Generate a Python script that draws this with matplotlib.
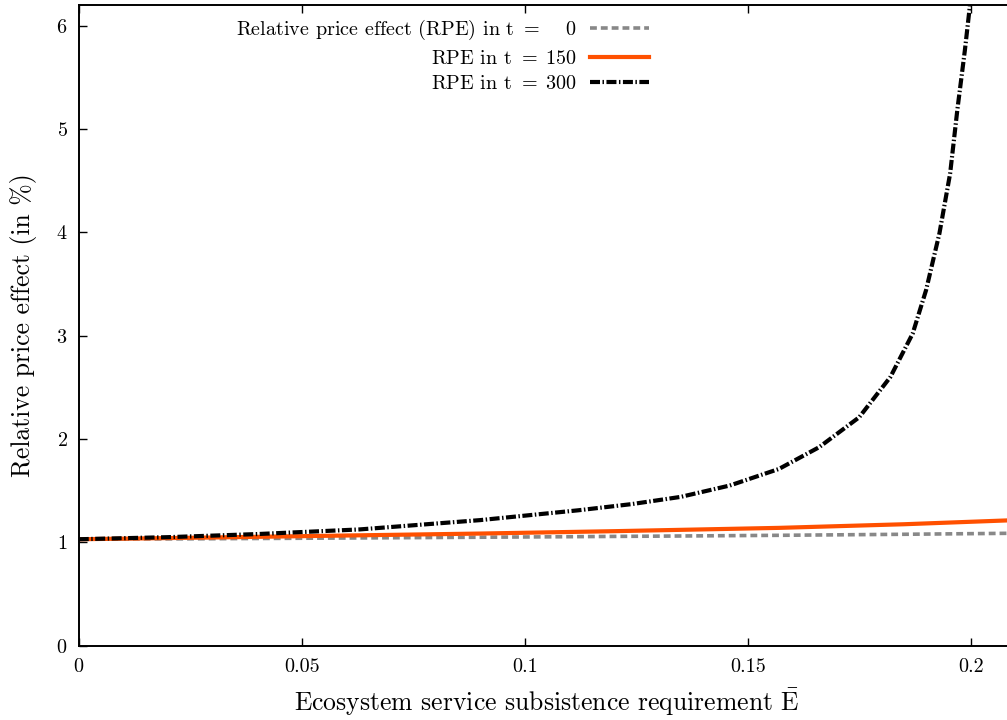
import matplotlib
matplotlib.use("Agg")
import matplotlib.pyplot as plt

plt.rcParams["font.family"] = ["cmr10", "DejaVu Serif"]
plt.rcParams["mathtext.fontset"] = "cm"
plt.rcParams["axes.formatter.use_mathtext"] = True

# subsistence requirement E-bar (x) and relative price effect in % (y)
e_t0 = [0.0, 0.03, 0.065, 0.1, 0.13, 0.157, 0.185, 0.21]
rpe_t0 = [1.03, 1.035, 1.043, 1.052, 1.06, 1.068, 1.078, 1.088]

e_t150 = [0.0, 0.03, 0.063, 0.09, 0.12, 0.157, 0.185, 0.21]
rpe_t150 = [1.03, 1.047, 1.068, 1.085, 1.108, 1.14, 1.175, 1.215]

e_t300 = [0.0, 0.02, 0.04, 0.063, 0.0675, 0.09, 0.112, 0.124, 0.135, 0.146,
          0.157, 0.166, 0.175, 0.182, 0.187, 0.190, 0.193, 0.1954, 0.197,
          0.1987, 0.1998, 0.2005]
rpe_t300 = [1.03, 1.05, 1.08, 1.125, 1.14, 1.215, 1.31, 1.37, 1.44, 1.55,
            1.71, 1.92, 2.21, 2.60, 3.02, 3.44, 3.99, 4.57, 5.18,
            5.76, 6.18, 6.6]

x_ticks = [0, 0.05, 0.1, 0.15, 0.2]
x_tick_labels = ["0", "0.05", "0.1", "0.15", "0.2"]
y_ticks = [0, 1, 2, 3, 4, 5, 6]

# \quad = width of two digits, keeps the "=" signs lined up
labels = [r"Relative price effect (RPE) in t $=\;\quad0$",
          r"RPE in t $=\;150$",
          r"RPE in t $=\;300$"]

fig = plt.figure(figsize=(10.07, 7.2), dpi=100)
ax = fig.add_axes([0.0782, 0.1032, 0.930, 0.890])

ax.plot(e_t0, rpe_t0, color="#888888", lw=2.6, dashes=(1.9, 1.1),
        dash_capstyle="butt", label=labels[0])
ax.plot(e_t150, rpe_t150, color="#ff5000", lw=3.0, label=labels[1])
ax.plot(e_t300, rpe_t300, color="black", lw=3.0, dashes=(2.4, 0.6, 0.35, 0.6),
        dash_capstyle="butt", label=labels[2])

ax.set_xlim(0, 0.21)
ax.set_ylim(0, 6.2)
ax.set_xticks(x_ticks)
ax.set_xticklabels(x_tick_labels)
ax.set_yticks(y_ticks)
ax.tick_params(direction="in", length=6, width=1.0, labelsize=14.5,
               top=True, right=True)
ax.tick_params(axis="x", pad=9)
ax.tick_params(axis="y", pad=8)
for s in ax.spines.values():
    s.set_linewidth(1.4)

ax.set_xlabel(r"Ecosystem service subsistence requirement $\bar{\mathrm{E}}$",
              fontsize=18.5, labelpad=8)
ax.set_ylabel("Relative price effect (in %)", fontsize=18.5, labelpad=14)

ax.legend(loc="upper right", bbox_to_anchor=(0.6085, 0.979), frameon=False,
          markerfirst=False, fontsize=14.5, handlelength=2.9, handletextpad=0.65,
          labelspacing=0.36, borderpad=0, borderaxespad=0)

fig.savefig("out.png", dpi=100)
